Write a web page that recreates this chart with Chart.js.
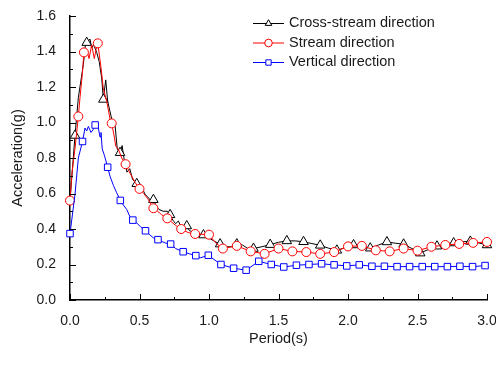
<!DOCTYPE html>
<html>
<head>
<meta charset="utf-8">
<script src="https://cdn.jsdelivr.net/npm/chart.js@4.4.1/dist/chart.umd.min.js"></script>
<style>
  html, body { margin: 0; padding: 0; background: #fff; }
  #wrap { width: 496px; height: 376px; }
</style>
</head>
<body>
<div id="wrap"><canvas id="spectrum-chart" width="496" height="376"></canvas></div>
<script>
// Response spectra: acceleration (g) vs period (s)

const crossPeriod = [
  0, 0.036, 0.06, 0.096, 0.113,
  0.12, 0.144, 0.156, 0.17, 0.192,
  0.21, 0.228, 0.24, 0.257, 0.271,
  0.30, 0.324, 0.34, 0.36, 0.375,
  0.39, 0.41, 0.43, 0.45, 0.48,
  0.50, 0.52, 0.54, 0.56, 0.58,
  0.60, 0.62, 0.64, 0.67, 0.70,
  0.72, 0.74, 0.76, 0.78, 0.80,
  0.82, 0.84, 0.86, 0.88, 0.90,
  0.93, 0.96, 0.98, 1.00, 1.04,
  1.08, 1.12, 1.16, 1.20, 1.24,
  1.28, 1.32, 1.38, 1.44, 1.50,
  1.56, 1.62, 1.68, 1.74, 1.80,
  1.86, 1.92, 1.98, 2.04, 2.10,
  2.16, 2.22, 2.28, 2.34, 2.40,
  2.46, 2.52, 2.58, 2.64, 2.70,
  2.76, 2.82, 2.88, 2.94, 3.00
];
const crossAccel = [
  0.56, 0.927, 1.14, 1.327, 1.454,
  1.45, 1.47, 1.42, 1.437, 1.395,
  1.343, 1.25, 1.13, 1.24, 1.12,
  1.02, 0.986, 0.85, 0.83, 0.87,
  0.79, 0.72, 0.74, 0.68, 0.655,
  0.64, 0.63, 0.595, 0.58, 0.561,
  0.565, 0.53, 0.51, 0.50, 0.50,
  0.48, 0.45, 0.43, 0.445, 0.41,
  0.40, 0.417, 0.39, 0.385, 0.37,
  0.36, 0.366, 0.35, 0.35, 0.33,
  0.315, 0.30, 0.30, 0.315, 0.31,
  0.29, 0.29, 0.30, 0.312, 0.325,
  0.333, 0.333, 0.328, 0.318, 0.308,
  0.292, 0.28, 0.295, 0.31, 0.30,
  0.292, 0.31, 0.327, 0.32, 0.314,
  0.29, 0.264, 0.285, 0.303, 0.312,
  0.321, 0.328, 0.33, 0.322, 0.31
];
const crossMarks = [
  0.036, 0.12, 0.24, 0.36, 0.48, 0.60, 0.72, 0.84, 0.96, 1.08, 1.20, 1.32, 1.44,
  1.56, 1.68, 1.80, 1.92, 2.04, 2.16, 2.28, 2.40, 2.52, 2.64, 2.76, 2.88, 3.00
];

const streamPeriod = [
  0, 0.014, 0.038, 0.06, 0.072,
  0.089, 0.10, 0.12, 0.137, 0.156,
  0.175, 0.187, 0.20, 0.223, 0.24,
  0.264, 0.276, 0.288, 0.30, 0.319,
  0.329, 0.348, 0.372, 0.40, 0.432,
  0.468, 0.50, 0.53, 0.56, 0.60,
  0.63, 0.66, 0.70, 0.73, 0.76,
  0.80, 0.85, 0.90, 0.95, 1.00,
  1.05, 1.10, 1.20, 1.30, 1.40,
  1.50, 1.60, 1.70, 1.80, 1.90,
  2.00, 2.10, 2.20, 2.30, 2.40,
  2.50, 2.60, 2.70, 2.80, 2.90,
  3.00
];
const streamAccel = [
  0.56, 0.714, 0.867, 1.034, 1.14,
  1.276, 1.395, 1.41, 1.36, 1.437,
  1.36, 1.41, 1.446, 1.31, 1.19,
  1.12, 1.07, 1.02, 0.995, 0.918,
  0.867, 0.85, 0.80, 0.765, 0.714,
  0.663, 0.626, 0.60, 0.57, 0.517,
  0.50, 0.48, 0.46, 0.44, 0.42,
  0.40, 0.38, 0.372, 0.37, 0.368,
  0.32, 0.29, 0.305, 0.274, 0.26,
  0.29, 0.274, 0.27, 0.26, 0.27,
  0.302, 0.305, 0.28, 0.274, 0.29,
  0.278, 0.30, 0.31, 0.316, 0.322,
  0.327
];
const streamMarks = [
  0, 0.06, 0.10, 0.20, 0.30, 0.40, 0.50, 0.60, 0.70, 0.80, 0.90, 1.00, 1.10,
  1.20, 1.30, 1.40, 1.50, 1.60, 1.70, 1.80, 1.90, 2.00, 2.10, 2.20, 2.30, 2.40,
  2.50, 2.60, 2.70, 2.80, 2.90, 3.00
];

const vertPeriod = [
  0, 0.036, 0.06, 0.09, 0.108,
  0.12, 0.132, 0.151, 0.168, 0.181,
  0.204, 0.216, 0.223, 0.232, 0.247,
  0.271, 0.288, 0.312, 0.336, 0.362,
  0.383, 0.408, 0.432, 0.452, 0.48,
  0.51, 0.543, 0.57, 0.60, 0.633,
  0.66, 0.69, 0.724, 0.76, 0.814,
  0.86, 0.905, 0.94, 0.995, 1.086,
  1.177, 1.267, 1.358, 1.448, 1.538,
  1.629, 1.719, 1.81, 1.9, 1.991,
  2.081, 2.172, 2.262, 2.353, 2.443,
  2.534, 2.624, 2.715, 2.805, 2.896,
  2.986
];
const vertAccel = [
  0.374, 0.595, 0.80, 0.893, 0.969,
  0.952, 0.978, 0.944, 0.961, 0.986,
  0.969, 0.918, 0.944, 0.85, 0.816,
  0.748, 0.697, 0.646, 0.604, 0.561,
  0.536, 0.51, 0.468, 0.45, 0.434,
  0.41, 0.39, 0.37, 0.35, 0.34,
  0.33, 0.32, 0.315, 0.29, 0.272,
  0.26, 0.25, 0.238, 0.252, 0.20,
  0.179, 0.168, 0.218, 0.20, 0.186,
  0.196, 0.20, 0.204, 0.198, 0.192,
  0.198, 0.19, 0.19, 0.188, 0.188,
  0.188, 0.188, 0.188, 0.19, 0.188,
  0.194
];
const vertMarks = [
  0, 0.09, 0.181, 0.271, 0.362, 0.452, 0.543, 0.633, 0.724, 0.814, 0.905, 0.995,
  1.086, 1.177, 1.267, 1.358, 1.448, 1.538, 1.629, 1.719, 1.81, 1.9, 1.991,
  2.081, 2.172, 2.262, 2.353, 2.443, 2.534, 2.624, 2.715, 2.805, 2.896, 2.986
];

const seriesNames = ['Cross-stream direction', 'Stream direction', 'Vertical direction'];

const FONT = '"Liberation Sans", Arial, sans-serif';
const TEXT = '#1a1a1a';

function toPoints(periods, accels) {
  return periods.map((t, i) => ({ x: t, y: accels[i] }));
}

function makeSeries(label, periods, accels, marks, color, style, radius, order) {
  return {
    label: label,
    data: toPoints(periods, accels),
    borderColor: color,
    borderWidth: 1,
    pointStyle: style,
    pointRadius: ctx => marks.includes(periods[ctx.dataIndex]) ? radius : 0,
    pointBorderColor: color,
    pointBackgroundColor: '#fff',
    pointBorderWidth: 1,
    tension: 0,
    clip: 8,
    order: order
  };
}

// inward tick marks, major + minor
const inwardTicks = {
  id: 'inwardTicks',
  afterDraw(chart) {
    const { ctx, chartArea, scales } = chart;
    ctx.save();
    ctx.strokeStyle = '#000';
    ctx.lineWidth = 1;
    for (let i = 0; i <= 16; i++) {
      const y = Math.round(scales.y.getPixelForValue(i * 0.1)) + 0.5;
      const len = i % 2 === 0 ? 6 : 3;
      ctx.beginPath();
      ctx.moveTo(chartArea.left, y);
      ctx.lineTo(chartArea.left + len, y);
      ctx.stroke();
    }
    for (let i = 0; i <= 12; i++) {
      const x = Math.round(scales.x.getPixelForValue(i * 0.25)) + 0.5;
      const len = i % 2 === 0 ? 6 : 3;
      ctx.beginPath();
      ctx.moveTo(x, chartArea.bottom);
      ctx.lineTo(x, chartArea.bottom - len);
      ctx.stroke();
    }
    ctx.restore();
  }
};

// legend in the upper right, line through marker
const lineLegend = {
  id: 'lineLegend',
  afterDraw(chart) {
    const ctx = chart.ctx;
    ctx.save();
    ctx.font = '14.5px ' + FONT;
    ctx.textBaseline = 'middle';
    chart.data.datasets.forEach((ds, i) => {
      const y = 23 + i * 19.5;
      ctx.strokeStyle = ds.borderColor;
      ctx.lineWidth = 1;
      ctx.beginPath();
      ctx.moveTo(253, y + 0.5);
      ctx.lineTo(284, y + 0.5);
      ctx.stroke();
      ctx.fillStyle = '#fff';
      Chart.helpers.drawPoint(ctx, { pointStyle: ds.pointStyle, radius: 3.8, rotation: 0, borderWidth: 1 }, 268.5, y + 0.5);
      ctx.fillStyle = TEXT;
      ctx.fillText(ds.label, 289, y);
    });
    ctx.restore();
  }
};

function createSpectrumChart() {
  const el = document.getElementById('spectrum-chart');
  if (!el) return;

  new Chart(el, {
    type: 'line',
    data: {
      datasets: [
        makeSeries(seriesNames[0], crossPeriod, crossAccel, crossMarks, '#000000', 'triangle', 5.5, 3),
        makeSeries(seriesNames[1], streamPeriod, streamAccel, streamMarks, '#ff0000', 'circle', 4.5, 2),
        makeSeries(seriesNames[2], vertPeriod, vertAccel, vertMarks, '#0000ff', 'rect', 4.6, 1)
      ]
    },
    options: {
      responsive: false,
      animation: false,
      layout: {
        autoPadding: false,
        padding: { top: 16, right: 9, bottom: 27, left: 0 }
      },
      plugins: {
        legend: { display: false },
        tooltip: { enabled: false }
      },
      scales: {
        x: {
          type: 'linear',
          min: 0,
          max: 3,
          afterFit: s => {
            s.height = 49;
            s.paddingLeft = 0;
            s.paddingRight = 0;
          },
          grid: { display: false },
          border: { display: true, color: '#000', width: 1.5 },
          ticks: {
            stepSize: 0.5,
            autoSkip: false,
            maxRotation: 0,
            padding: 5,
            color: TEXT,
            font: { family: FONT, size: 14 },
            callback: v => v.toFixed(1)
          },
          title: {
            display: true,
            text: 'Period(s)',
            color: TEXT,
            font: { family: FONT, size: 14.5 },
            padding: { top: 0, bottom: 1 }
          }
        },
        y: {
          min: 0,
          max: 1.6,
          afterFit: s => {
            s.width = 70;
            s.paddingTop = 0;
            s.paddingBottom = 0;
          },
          grid: { display: false },
          border: { display: true, color: '#000', width: 1.5 },
          ticks: {
            stepSize: 0.2,
            autoSkip: false,
            padding: 6,
            color: TEXT,
            font: { family: FONT, size: 14 },
            callback: v => v.toFixed(1)
          },
          title: {
            display: true,
            text: 'Acceleration(g)',
            color: TEXT,
            font: { family: FONT, size: 14.5 },
            padding: { top: 9, bottom: 0 }
          }
        }
      }
    },
    plugins: [inwardTicks, lineLegend]
  });
}

createSpectrumChart();
</script>
</body>
</html>
